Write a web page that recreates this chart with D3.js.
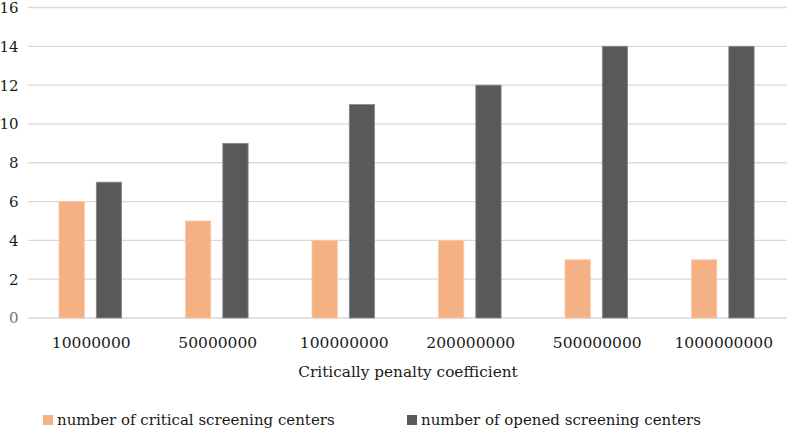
<!DOCTYPE html>
<html>
<head>
<meta charset="utf-8">
<script src="https://cdn.jsdelivr.net/npm/d3@7"></script>
<style>
  body { margin: 0; background: #fff; }
  text { font-family: "DejaVu Serif", serif; fill: #1a1a1a; }
</style>
</head>
<body>
<svg id="chart" width="787" height="430"></svg>
<script>
var categories = ["10000000", "50000000", "100000000", "200000000", "500000000", "1000000000"];
var critical = [6, 5, 4, 4, 3, 3];
var opened = [7, 9, 11, 12, 14, 14];
var yTicks = [0, 2, 4, 6, 8, 10, 12, 14, 16];
var seriesNames = ["number of critical screening centers", "number of opened screening centers"];
var colors = ["#f4b183", "#595959"];

var svg = d3.select("#chart");
var plotLeft = 28, plotRight = 787, plotTop = 7.5, plotBottom = 318;

var x = d3.scaleBand().domain(categories).range([plotLeft, plotRight]);
var y = d3.scaleLinear().domain([0, 16]).range([plotBottom, plotTop]);

// gridlines
svg.append("g").selectAll("line")
    .data(yTicks)
  .enter().append("line")
    .attr("x1", plotLeft).attr("x2", plotRight)
    .attr("y1", function(d) { return y(d); })
    .attr("y2", function(d) { return y(d); })
    .attr("stroke", "#d9d9d9")
    .attr("stroke-width", 1.3);

// y labels
svg.append("g").selectAll("text")
    .data(yTicks)
  .enter().append("text")
    .attr("x", 18.5)
    .attr("y", function(d) { return y(d); })
    .attr("dy", "0.36em")
    .attr("text-anchor", "end")
    .style("font-size", "15px")
    .style("fill", function(d) { return d === 0 ? "#777" : "#1a1a1a"; })
    .text(function(d) { return d; });

var bw = x.bandwidth();
var barW = bw * 0.2;
var series = [critical, opened];
var offsets = [bw * 0.245, bw * 0.54];

series.forEach(function(vals, i) {
  svg.append("g").selectAll("rect")
      .data(vals)
    .enter().append("rect")
      .attr("x", function(d, j) { return x(categories[j]) + offsets[i]; })
      .attr("y", function(d) { return y(d); })
      .attr("width", barW)
      .attr("height", function(d) { return y(0) - y(d); })
      .attr("fill", colors[i])
      .attr("stroke", i === 0 ? "#f7c9a6" : "#8a8a8a")
      .attr("stroke-width", 0.8);
});

// x labels
svg.append("g").selectAll("text")
    .data(categories)
  .enter().append("text")
    .attr("x", function(d) { return x(d) + bw / 2; })
    .attr("y", 342)
    .attr("dy", "0.36em")
    .attr("text-anchor", "middle")
    .style("font-size", "15.5px")
    .text(function(d) { return d; });

svg.append("text")
    .attr("x", 408)
    .attr("y", 371)
    .attr("dy", "0.36em")
    .attr("text-anchor", "middle")
    .style("font-size", "15.3px")
    .text("Critically penalty coefficient");

// legend
var legendX = [43, 407];
var lg = svg.append("g").selectAll("g")
    .data(seriesNames)
  .enter().append("g")
    .attr("transform", function(d, i) { return "translate(" + legendX[i] + ",420)"; });
lg.append("rect")
    .attr("x", 0).attr("y", -5)
    .attr("width", 10).attr("height", 10)
    .attr("fill", function(d, i) { return colors[i]; });
lg.append("text")
    .attr("x", 14)
    .attr("dy", "0.36em")
    .style("font-size", "15px")
    .text(function(d) { return d; });
</script>
</body>
</html>
